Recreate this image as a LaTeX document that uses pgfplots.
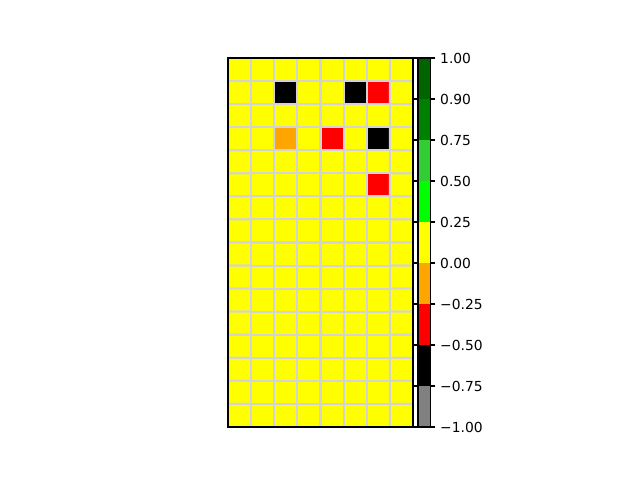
\documentclass[border=0pt]{standalone}
\usepackage{pgfplots}
\pgfplotsset{compat=1.18}
\usepackage{fontspec}
\setmainfont{DejaVu Sans}
\definecolor{gridgray}{HTML}{D3D3D3}
\definecolor{cgray}{HTML}{808080}
\definecolor{corange}{HTML}{FFA500}
\definecolor{clime}{HTML}{00FF00}
\definecolor{climegreen}{HTML}{32CD32}
\definecolor{cgreen}{HTML}{008000}
\definecolor{cdarkgreen}{HTML}{006400}
\pgfplotsset{
  colormap={classes}{color=(cgray) color=(black) color=(red) color=(corange) color=(yellow) color=(clime) color=(climegreen) color=(cgreen) color=(cdarkgreen)},
}
\pgfplotstableread{
x y c
0 0 4
1 0 4
2 0 4
3 0 4
4 0 4
5 0 4
6 0 4
7 0 4
0 1 4
1 1 4
2 1 1
3 1 4
4 1 4
5 1 1
6 1 2
7 1 4
0 2 4
1 2 4
2 2 4
3 2 4
4 2 4
5 2 4
6 2 4
7 2 4
0 3 4
1 3 4
2 3 3
3 3 4
4 3 2
5 3 4
6 3 1
7 3 4
0 4 4
1 4 4
2 4 4
3 4 4
4 4 4
5 4 4
6 4 4
7 4 4
0 5 4
1 5 4
2 5 4
3 5 4
4 5 4
5 5 4
6 5 2
7 5 4
0 6 4
1 6 4
2 6 4
3 6 4
4 6 4
5 6 4
6 6 4
7 6 4
0 7 4
1 7 4
2 7 4
3 7 4
4 7 4
5 7 4
6 7 4
7 7 4
0 8 4
1 8 4
2 8 4
3 8 4
4 8 4
5 8 4
6 8 4
7 8 4
0 9 4
1 9 4
2 9 4
3 9 4
4 9 4
5 9 4
6 9 4
7 9 4
0 10 4
1 10 4
2 10 4
3 10 4
4 10 4
5 10 4
6 10 4
7 10 4
0 11 4
1 11 4
2 11 4
3 11 4
4 11 4
5 11 4
6 11 4
7 11 4
0 12 4
1 12 4
2 12 4
3 12 4
4 12 4
5 12 4
6 12 4
7 12 4
0 13 4
1 13 4
2 13 4
3 13 4
4 13 4
5 13 4
6 13 4
7 13 4
0 14 4
1 14 4
2 14 4
3 14 4
4 14 4
5 14 4
6 14 4
7 14 4
0 15 4
1 15 4
2 15 4
3 15 4
4 15 4
5 15 4
6 15 4
7 15 4
}\gridtable
\pgfplotstableread{
x y c
0 0 8
1 0 8
0 1 7
1 1 7
0 2 6
1 2 6
0 3 5
1 3 5
0 4 4
1 4 4
0 5 3
1 5 3
0 6 2
1 6 2
0 7 1
1 7 1
0 8 0
1 8 0
}\bartable
\begin{document}
\begin{tikzpicture}
\useasboundingbox (0,0) rectangle (6.4in,4.8in);
\begin{axis}[
  at={(2.28in,0.53in)}, anchor=south west,
  scale only axis, width=1.85in, height=3.69in,
  xmin=-0.5, xmax=7.5, ymin=-0.5, ymax=15.5,
  y dir=reverse,
  colormap name=classes, colormap access=direct,
  xtick=\empty, ytick=\empty,
  axis line style={line width=0.8pt},
  axis on top,
]
\addplot[matrix plot, shader=faceted, faceted color=gridgray, line width=1.5pt,
  mesh/cols=8, point meta=explicit] table[x=x, y=y, meta=c] {\gridtable};
\end{axis}
\begin{axis}[
  at={(4.18in,0.53in)}, anchor=south west,
  scale only axis, width=0.125in, height=3.69in,
  xmin=-0.5, xmax=1.5, ymin=-0.5, ymax=8.5,
  y dir=reverse,
  colormap name=classes, colormap access=direct,
  xtick=\empty,
  ytick={-0.5,0.5,1.5,2.5,3.5,4.5,5.5,6.5,7.5,8.5},
  yticklabels={1.00,0.90,0.75,0.50,0.25,0.00,−0.25,−0.50,−0.75,−1.00},
  yticklabel pos=right,
  ytick style={line width=0.8pt, black},
  major tick length=3.5pt,
  tick align=outside,
  every tick label/.append style={font=\fontsize{10}{12}\selectfont},
  axis line style={line width=0.8pt},
  axis on top,
]
\addplot[matrix plot, shader=flat corner,
  mesh/cols=2, point meta=explicit] table[x=x, y=y, meta=c] {\bartable};
\end{axis}
\end{tikzpicture}
\end{document}
